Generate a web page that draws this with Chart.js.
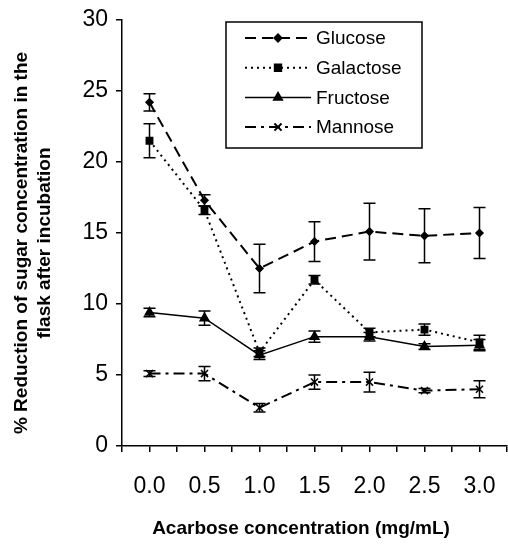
<!DOCTYPE html>
<html>
<head>
<meta charset="utf-8">
<script src="https://cdn.jsdelivr.net/npm/chart.js@4.4.1/dist/chart.umd.min.js"></script>
<style>
  html, body { margin: 0; padding: 0; background: #fff; }
  #wrap { width: 508px; height: 547px; }
</style>
</head>
<body>
<div id="wrap"><canvas id="sugarChart"></canvas></div>
<script>
  // acarbose concentration (mg/mL)
  const concentrations = [0.0, 0.5, 1.0, 1.5, 2.0, 2.5, 3.0];
  const xTickLabels = ['0.0', '0.5', '1.0', '1.5', '2.0', '2.5', '3.0'];
  const yTicks = [0, 5, 10, 15, 20, 25, 30];

  // % reduction of sugar, with error bar half-widths
  const glucose      = [24.2, 17.3, 12.5, 14.4, 15.1, 14.8, 15.0];
  const glucoseErr   = [0.6, 0.4, 1.7, 1.4, 2.0, 1.9, 1.8];
  const galactose    = [21.5, 16.6, 6.6, 11.7, 8.0, 8.2, 7.3];
  const galactoseErr = [1.2, 0.3, 0.3, 0.3, 0.3, 0.4, 0.5];
  const fructose     = [9.4, 9.0, 6.4, 7.7, 7.7, 7.0, 7.1];
  const fructoseErr  = [0.3, 0.5, 0.3, 0.4, 0.3, 0.2, 0.4];
  const mannose      = [5.1, 5.1, 2.7, 4.5, 4.5, 3.9, 4.0];
  const mannoseErr   = [0.2, 0.5, 0.3, 0.5, 0.7, 0.15, 0.6];

  const FONT = "'Liberation Sans', Arial, sans-serif";

  function points(values) {
    return concentrations.map((c, i) => ({ x: c, y: values[i] }));
  }

  function series(label, values, errors, dash, width, pointStyle, radius) {
    return {
      label: label,
      data: points(values),
      errors: errors,
      borderColor: '#000',
      backgroundColor: '#000',
      borderWidth: width,
      borderDash: dash,
      pointStyle: pointStyle,
      pointRadius: radius,
      pointBorderWidth: 1.5,
      pointBackgroundColor: '#000',
      pointBorderColor: '#000',
      tension: 0
    };
  }

  const datasets = [
    series('Glucose',   glucose,   glucoseErr,   [11, 6],       2,   'rectRot',  3.5),
    series('Galactose', galactose, galactoseErr, [2, 4],        2,   'rect',     4.5),
    series('Fructose',  fructose,  fructoseErr,  [],            1.5, 'triangle', 5),
    series('Mannose',   mannose,   mannoseErr,   [11, 5, 3, 5], 2,   'crossRot', 5)
  ];

  // vertical error bars with caps
  const errorBars = {
    id: 'errorBars',
    afterDatasetsDraw(chart) {
      const ctx = chart.ctx;
      const y = chart.scales.y;
      ctx.save();
      ctx.strokeStyle = '#000';
      ctx.lineWidth = 1.5;
      ctx.setLineDash([]);
      chart.data.datasets.forEach((ds, d) => {
        chart.getDatasetMeta(d).data.forEach((pt, i) => {
          const v = ds.data[i].y, e = ds.errors[i];
          const top = y.getPixelForValue(v + e);
          const bot = y.getPixelForValue(v - e);
          ctx.beginPath();
          ctx.moveTo(pt.x, top); ctx.lineTo(pt.x, bot);
          ctx.moveTo(pt.x - 6, top); ctx.lineTo(pt.x + 6, top);
          ctx.moveTo(pt.x - 6, bot); ctx.lineTo(pt.x + 6, bot);
          ctx.stroke();
        });
      });
      ctx.restore();
    }
  };

  // boxed legend inside the plot, plus axis titles
  const extras = {
    id: 'extras',
    afterDraw(chart) {
      const ctx = chart.ctx;
      const area = chart.chartArea;
      const bx = area.left + 104, by = area.top + 2;
      ctx.save();
      ctx.fillStyle = '#fff';
      ctx.fillRect(bx, by, 196, 126);
      ctx.strokeStyle = '#000';
      ctx.lineWidth = 1.5;
      ctx.strokeRect(bx, by, 196, 126);

      ctx.font = '19px ' + FONT;
      ctx.textBaseline = 'middle';
      ctx.textAlign = 'left';
      chart.data.datasets.forEach((ds, i) => {
        const ry = by + 16 + i * 29.7;
        ctx.strokeStyle = '#000';
        ctx.lineWidth = ds.borderWidth;
        ctx.setLineDash(ds.borderDash);
        ctx.beginPath();
        ctx.moveTo(bx + 19, ry); ctx.lineTo(bx + 85, ry);
        ctx.stroke();
        ctx.setLineDash([]);
        ctx.fillStyle = '#000';
        Chart.helpers.drawPoint(ctx, {
          pointStyle: ds.pointStyle, radius: ds.pointRadius,
          rotation: 0, borderWidth: 1.5
        }, bx + 52, ry);
        ctx.fillStyle = '#000';
        ctx.fillText(ds.label, bx + 90, ry + 1);
      });

      ctx.font = 'bold 19px ' + FONT;
      ctx.textAlign = 'center';
      ctx.fillText('Acarbose concentration (mg/mL)', 301, 529);

      ctx.translate(22, 243);
      ctx.rotate(-Math.PI / 2);
      ctx.fillText('% Reduction of sugar concentration in the', 0, 0);
      ctx.fillText('flask after incubation', 0, 23);
      ctx.restore();
    }
  };

  const ctx = document.getElementById('sugarChart').getContext('2d');

  new Chart(ctx, {
    type: 'line',
    data: { datasets: datasets },
    options: {
      responsive: true,
      maintainAspectRatio: false,
      animation: false,
      layout: { autoPadding: false, padding: { top: 20, right: 1, left: 0, bottom: 0 } },
      plugins: {
        legend: { display: false },
        tooltip: { enabled: false }
      },
      scales: {
        x: {
          type: 'linear',
          min: -0.25,
          max: 3.25,
          afterFit(scale) {
            scale.height = 101;
            scale.paddingLeft = 0;
            scale.paddingRight = 0;
          },
          ticks: {
            stepSize: 0.25,
            autoSkip: false,
            maxRotation: 0,
            padding: 21,
            color: '#000',
            font: { size: 23, family: FONT },
            callback(value) {
              const i = concentrations.indexOf(value);
              return i >= 0 ? xTickLabels[i] : '';
            }
          },
          grid: { drawOnChartArea: false, drawTicks: true, tickLength: 6, color: '#000', lineWidth: 1.5 },
          border: { display: true, color: '#000', width: 1.5 }
        },
        y: {
          min: 0,
          max: 30,
          afterFit(scale) {
            scale.width = 122;
            scale.paddingTop = 0;
            scale.paddingBottom = 0;
          },
          afterBuildTicks(scale) { scale.ticks = yTicks.map(v => ({ value: v })); },
          ticks: {
            padding: 8,
            color: '#000',
            font: { size: 23, family: FONT }
          },
          grid: { drawOnChartArea: false, drawTicks: true, tickLength: 6, color: '#000', lineWidth: 1.5 },
          border: { display: true, color: '#000', width: 1.5 }
        }
      }
    },
    plugins: [errorBars, extras]
  });
</script>
</body>
</html>
